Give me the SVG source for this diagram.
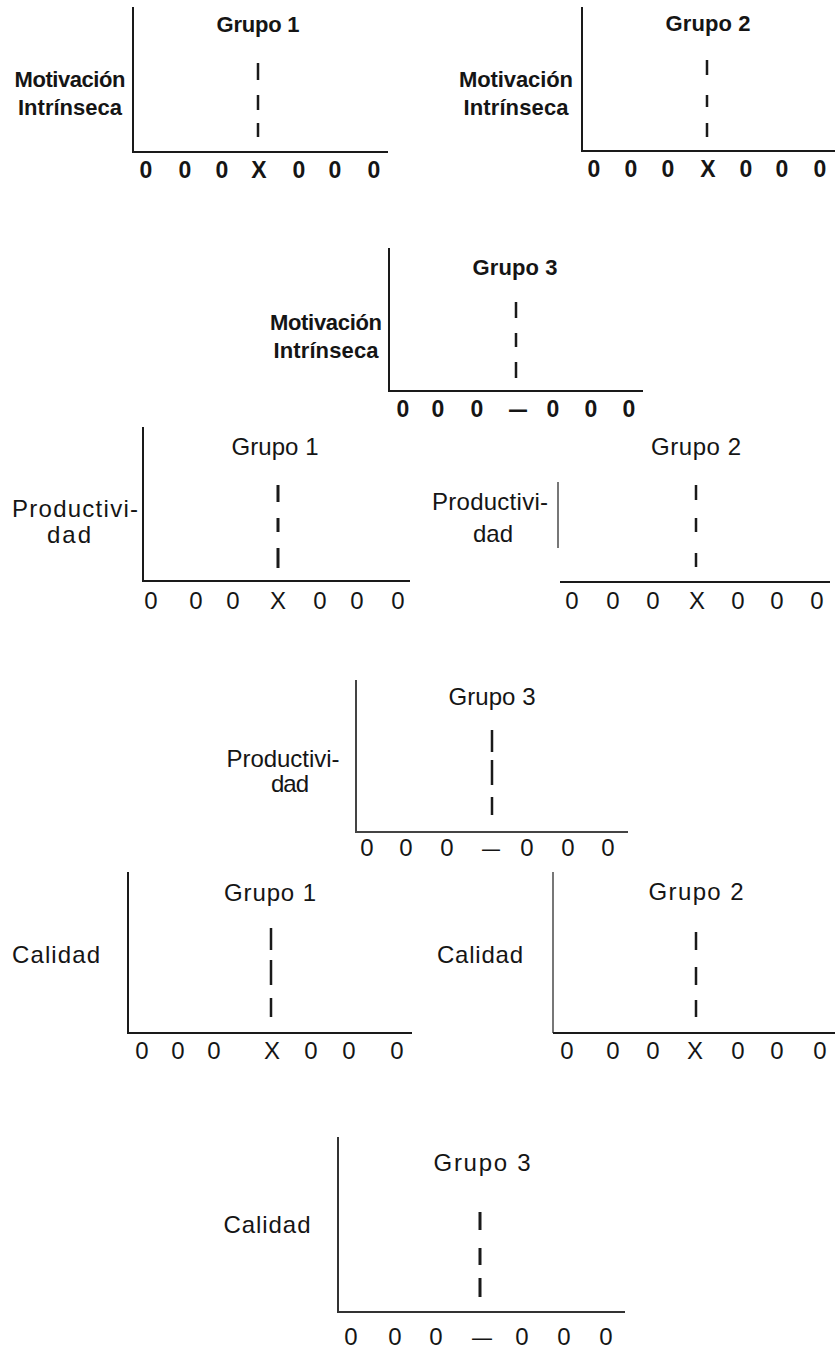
<svg xmlns="http://www.w3.org/2000/svg" width="839" height="1350" viewBox="0 0 839 1350">
<style>
text{font-family:"Liberation Sans",Arial,Helvetica,sans-serif;fill:#151515;text-anchor:middle}
.b{font-weight:bold}
.t{font-size:22px}
.y{font-size:22px}
.k{font-size:23px}
.r .t{font-size:24px}
.r .y{font-size:24px}
.r .k{font-size:24px}
.ax{stroke:#1a1a1a;stroke-width:2;fill:none}
.ds{stroke:#1a1a1a;stroke-width:2.5}
</style>
<rect width="839" height="1350" fill="#fff"/>

<g id="motiv-g1" class="b">
<path class="ax" d="M133 7V152H388"/>
<text class="t" x="258" y="32" textLength="83" lengthAdjust="spacing">Grupo 1</text>
<text class="y" x="70" y="87" textLength="111" lengthAdjust="spacing">Motivación</text>
<text class="y" x="70" y="115" textLength="104" lengthAdjust="spacing">Intrínseca</text>
<path class="ds" d="M258 63V80M258 95V110M258 123V137"/>
<g class="k"><text x="146" y="178">0</text><text x="185" y="178">0</text><text x="222" y="178">0</text><text x="259" y="178">X</text><text x="299" y="178">0</text><text x="335" y="178">0</text><text x="374" y="178">0</text></g>
</g>

<g id="motiv-g2" class="b">
<path class="ax" d="M582 7V151H835"/>
<text class="t" x="708" y="31" textLength="85" lengthAdjust="spacing">Grupo 2</text>
<text class="y" x="516" y="87" textLength="114" lengthAdjust="spacing">Motivación</text>
<text class="y" x="516" y="115" textLength="105" lengthAdjust="spacing">Intrínseca</text>
<path class="ds" d="M707 60V75M707 95V107M707 123V137"/>
<g class="k"><text x="594" y="177">0</text><text x="631" y="177">0</text><text x="668" y="177">0</text><text x="708" y="177">X</text><text x="746" y="177">0</text><text x="782" y="177">0</text><text x="820" y="177">0</text></g>
</g>

<g id="motiv-g3" class="b">
<path class="ax" d="M389 248V391H643"/>
<text class="t" x="515" y="275" textLength="85" lengthAdjust="spacing">Grupo 3</text>
<text class="y" x="326" y="330" textLength="112" lengthAdjust="spacing">Motivación</text>
<text class="y" x="326" y="358" textLength="105" lengthAdjust="spacing">Intrínseca</text>
<path class="ds" d="M516 302V318M516 333V347M516 362V378"/>
<g class="k"><text x="403" y="417">0</text><text x="438" y="417">0</text><text x="477" y="417">0</text><text x="518" y="417" textLength="18" lengthAdjust="spacingAndGlyphs">—</text><text x="553" y="417">0</text><text x="591" y="417">0</text><text x="629" y="417">0</text></g>
</g>

<g id="prod-g1" class="r">
<path class="ax" d="M143 427V581H410"/>
<text class="t" x="275" y="455" textLength="87" lengthAdjust="spacing">Grupo 1</text>
<text class="y" x="75" y="517" textLength="126" lengthAdjust="spacing">Productivi-</text>
<text class="y" x="69" y="543" textLength="44" lengthAdjust="spacing">dad</text>
<path class="ds" d="M278 485V502M278 518V532M278 548V568" style="stroke-width:3"/>
<g class="k"><text x="151" y="609">0</text><text x="196" y="609">0</text><text x="233" y="609">0</text><text x="278" y="609">X</text><text x="320" y="609">0</text><text x="357" y="609">0</text><text x="398" y="609">0</text></g>
</g>

<g id="prod-g2" class="r">
<path class="ax" d="M558 482V548" style="stroke:#777"/>
<path class="ax" d="M560 582H830"/>
<text class="t" x="696" y="455" textLength="90" lengthAdjust="spacing">Grupo 2</text>
<text class="y" x="490" y="510" textLength="116" lengthAdjust="spacing">Productivi-</text>
<text class="y" x="493" y="542" textLength="40" lengthAdjust="spacing">dad</text>
<path class="ds" d="M696 485V500M696 518V532M696 553V567"/>
<g class="k"><text x="572" y="609">0</text><text x="613" y="609">0</text><text x="653" y="609">0</text><text x="697" y="609">X</text><text x="738" y="609">0</text><text x="777" y="609">0</text><text x="817" y="609">0</text></g>
</g>

<g id="prod-g3" class="r">
<path class="ax" d="M356 680V832H628" style="stroke:#444"/>
<text class="t" x="492" y="705" textLength="87" lengthAdjust="spacing">Grupo 3</text>
<text class="y" x="283" y="767" textLength="113" lengthAdjust="spacing">Productivi-</text>
<text class="y" x="290" y="792" textLength="38" lengthAdjust="spacing">dad</text>
<path class="ds" d="M492 730V752M492 760V785M492 797V815"/>
<g class="k"><text x="367" y="856">0</text><text x="406" y="856">0</text><text x="447" y="856">0</text><text x="491" y="856" textLength="18" lengthAdjust="spacingAndGlyphs">—</text><text x="527" y="856">0</text><text x="568" y="856">0</text><text x="608" y="856">0</text></g>
</g>

<g id="cal-g1" class="r">
<path class="ax" d="M128 872V1033H412"/>
<text class="t" x="270" y="901" textLength="92" lengthAdjust="spacing">Grupo 1</text>
<text class="y" x="56" y="963" textLength="88" lengthAdjust="spacing">Calidad</text>
<path class="ds" d="M271 928V950M271 960V985M271 998V1017"/>
<g class="k"><text x="142" y="1059">0</text><text x="178" y="1059">0</text><text x="214" y="1059">0</text><text x="272" y="1059">X</text><text x="311" y="1059">0</text><text x="349" y="1059">0</text><text x="397" y="1059">0</text></g>
</g>

<g id="cal-g2" class="r">
<path class="ax" d="M553 872V1033" style="stroke:#777"/>
<path class="ax" d="M553 1033H835"/>
<text class="t" x="696" y="900" textLength="95" lengthAdjust="spacing">Grupo 2</text>
<text class="y" x="480" y="963" textLength="86" lengthAdjust="spacing">Calidad</text>
<path class="ds" d="M696 932V950M696 967V985M696 1000V1017"/>
<g class="k"><text x="567" y="1059">0</text><text x="613" y="1059">0</text><text x="653" y="1059">0</text><text x="695" y="1059">X</text><text x="738" y="1059">0</text><text x="777" y="1059">0</text><text x="820" y="1059">0</text></g>
</g>

<g id="cal-g3" class="r">
<path class="ax" d="M338 1137V1312H625" style="stroke:#333"/>
<text class="t" x="482" y="1171" textLength="97" lengthAdjust="spacing">Grupo 3</text>
<text class="y" x="267" y="1233" textLength="87" lengthAdjust="spacing">Calidad</text>
<path class="ds" d="M480 1212V1230M480 1248V1265M480 1278V1297" style="stroke-width:3"/>
<g class="k"><text x="351" y="1345">0</text><text x="395" y="1345">0</text><text x="436" y="1345">0</text><text x="482" y="1345" textLength="20" lengthAdjust="spacingAndGlyphs">—</text><text x="522" y="1345">0</text><text x="564" y="1345">0</text><text x="606" y="1345">0</text></g>
</g>
</svg>
